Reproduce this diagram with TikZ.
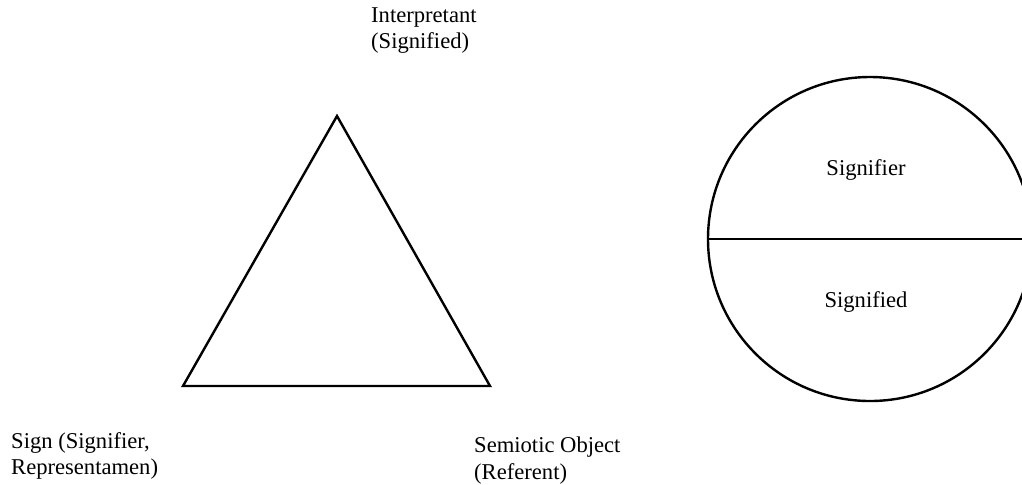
\documentclass[tikz,border=0pt]{standalone}
\usepackage{fontspec}
\setmainfont{Liberation Serif}
\usetikzlibrary{positioning,shapes.geometric}

\begin{document}
\begin{tikzpicture}[x=0.5pt,y=-0.5pt,line width=1.2pt,
    lbl/.style={font=\fontsize{11.3}{13.4}\selectfont,align=left,inner sep=0pt,anchor=north west},
    half/.style={font=\fontsize{11.3}{13.4}\selectfont,inner sep=0pt}]
        \useasboundingbox (0,0) rectangle (1022,484);

        % triangle
        \coordinate (interp) at (337,116);
        \coordinate (sign) at (183,386);
        \coordinate (object) at (490,386);
        \draw[line join=miter] (sign)--(interp)--(object)--cycle;

        \node[lbl] (interpLab) at (370,6) {Interpretant\\(Signified)};
        \node[lbl] (signLab) at (10,431) {Sign (Signifier,\\Representamen)};
        \node[lbl] (objLab) at (473,436) {Semiotic Object\\(Referent)};

        % circle
        \node[draw,circle,minimum size=162pt,inner sep=0pt] (disc) at (870,239) {};
        \draw (disc.west)--(disc.east);
        \node[half] (sfier) at (866,170) {Signifier};
        \node[half] (sfied) at (866,302) {Signified};
      \end{tikzpicture}
\end{document}
